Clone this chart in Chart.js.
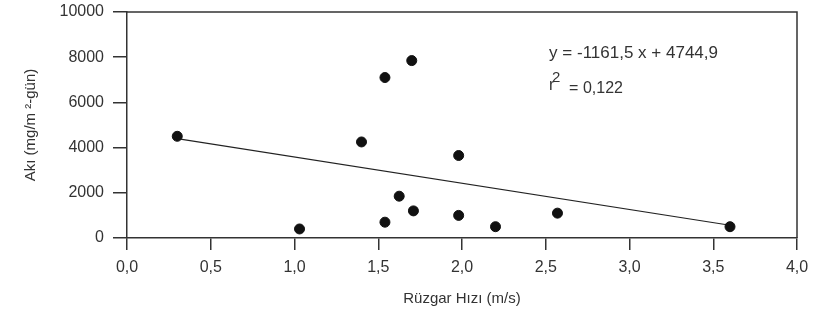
<!DOCTYPE html>
<html>
<head>
<meta charset="utf-8">
<script src="https://cdn.jsdelivr.net/npm/chart.js@4/dist/chart.umd.min.js"></script>
<style>
  html, body { margin: 0; padding: 0; background: #fff; }
  #wrap { width: 814px; height: 312px; }
</style>
</head>
<body>
<div id="wrap"><canvas id="scatter_chart"></canvas></div>
<script>
// wind speed (m/s) and flux (mg/m2-day)
var windSpeed = [0.30, 1.03, 1.40, 1.54, 1.70, 1.625, 1.54, 1.71, 1.98, 1.98, 2.20, 2.57, 3.60];
var flux = [4500, 400, 4250, 7100, 7850, 1850, 700, 1200, 3650, 1000, 500, 1100, 500];
// trend line end points
var trendX = [0.3, 3.6];
var trendY = [4396, 563];
var xTicks = [0, 0.5, 1, 1.5, 2, 2.5, 3, 3.5, 4];
var yTicks = [0, 2000, 4000, 6000, 8000, 10000];
var eqText = 'y = -1161,5 x + 4744,9';
var r2Text = '= 0,122';

var ink = '#333';
var fam = "'Liberation Sans', Arial, sans-serif";
var font = { family: fam, size: 16 };

var framePlugin = {
    id: 'frame',
    afterDraw: function(chart) {
        var a = chart.chartArea, c = chart.ctx;
        c.save();
        c.strokeStyle = ink;
        c.lineWidth = 1.5;
        c.beginPath();
        c.moveTo(a.left, a.top);
        c.lineTo(a.right, a.top);
        c.lineTo(a.right, a.bottom);
        c.stroke();
        // regression equation
        var x = chart.scales.x.getPixelForValue(2.52);
        var y = chart.scales.y.getPixelForValue(8000);
        c.fillStyle = ink;
        c.font = '17px ' + fam;
        c.textBaseline = 'alphabetic';
        c.fillText(eqText, x, y + 1);
        c.font = '16px ' + fam;
        c.fillText('r', x, y + 33);
        c.fillText(r2Text, x + 20, y + 36);
        c.font = '15px ' + fam;
        c.fillText('2', x + 3, y + 25);
        c.restore();
    }
};

var config = {
    type: 'scatter',
    data: {
        datasets: [{
            label: 'Akı',
            data: windSpeed.map(function(v, i) { return { x: v, y: flux[i] }; }),
            backgroundColor: '#111',
            borderColor: '#111',
            pointRadius: 5,
            pointHoverRadius: 5
        }, {
            label: 'trend',
            type: 'line',
            data: trendX.map(function(v, i) { return { x: v, y: trendY[i] }; }),
            borderColor: '#222',
            borderWidth: 1.2,
            pointRadius: 0,
            fill: false
        }]
    },
    options: {
        responsive: true,
        maintainAspectRatio: false,
        animation: false,
        layout: { padding: { top: 12, right: 17, left: 0, bottom: 0 } },
        plugins: { legend: { display: false }, tooltip: { enabled: false } },
        scales: {
            x: {
                type: 'linear',
                min: 0, max: 4,
                afterFit: function(s) { s.height = 74; s.paddingLeft = 0; s.paddingRight = 0; },
                afterBuildTicks: function(s) { s.ticks = xTicks.map(function(v) { return { value: v }; }); },
                grid: { drawOnChartArea: false, tickLength: 12, color: ink, lineWidth: 1.5 },
                border: { color: ink, width: 1.5 },
                ticks: {
                    color: ink, font: font, padding: 8, maxRotation: 0,
                    callback: function(v) { return v.toFixed(1).replace('.', ','); }
                },
                title: { display: true, text: 'Rüzgar Hızı (m/s)', color: ink, font: { family: fam, size: 15 }, padding: { top: 4, bottom: 4 } }
            },
            y: {
                min: 0, max: 10000,
                afterFit: function(s) { s.width = 127; s.paddingTop = 0; s.paddingBottom = 0; },
                afterBuildTicks: function(s) { s.ticks = yTicks.map(function(v) { return { value: v }; }); },
                grid: { drawOnChartArea: false, tickLength: 14, color: ink, lineWidth: 1.5 },
                border: { color: ink, width: 1.5 },
                ticks: { color: ink, font: font, padding: 9, callback: function(v) { return String(v); } },
                title: { display: true, text: 'Akı (mg/m \u00B2-gün)', color: ink, font: { family: fam, size: 15 }, padding: { top: 22, bottom: 0 } }
            }
        }
    },
    plugins: [framePlugin]
};

new Chart(document.getElementById('scatter_chart').getContext('2d'), config);
</script>
</body>
</html>
